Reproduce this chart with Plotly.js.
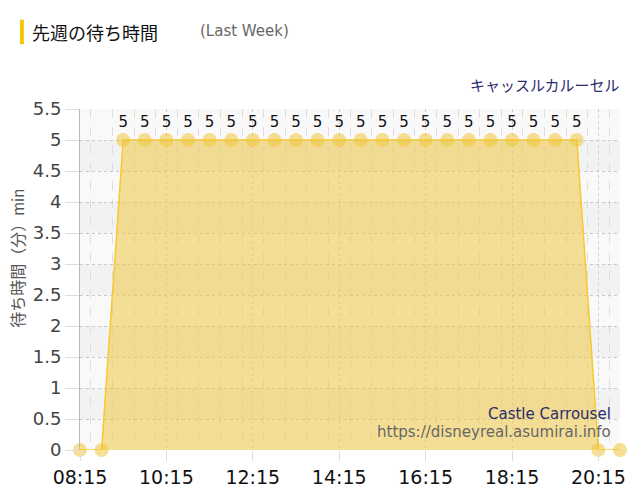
<!DOCTYPE html>
<html>
<head>
<meta charset="utf-8">
<script src="https://cdn.plot.ly/plotly-3.0.1.min.js"></script>
<style>
  html, body { margin: 0; padding: 0; background: #fff; }
  #graph { width: 640px; height: 500px; }
</style>
</head>
<body>
<div id="graph"></div>
<script>
var times = [
    '08:15', '08:45', '09:15', '09:45', '10:15', '10:45', '11:15', '11:45',
    '12:15', '12:45', '13:15', '13:45', '14:15', '14:45', '15:15', '15:45',
    '16:15', '16:45', '17:15', '17:45', '18:15', '18:45', '19:15', '19:45',
    '20:15', '20:45'
];
var waits = [
    0, 0, 5, 5, 5, 5, 5, 5,
    5, 5, 5, 5, 5, 5, 5, 5,
    5, 5, 5, 5, 5, 5, 5, 5,
    0, 0
];
var yTicks = [0, 0.5, 1, 1.5, 2, 2.5, 3, 3.5, 4, 4.5, 5, 5.5];

var day = '2024-01-01 ';
var xValues = times.map(function (t) { return day + t; });
var labels = waits.map(function (v) { return v > 0 ? String(v) : ''; });

var jp = '"Noto Sans CJK JP", "DejaVu Sans", sans-serif';

var waitPlot = {
    x: xValues,
    y: waits,
    text: labels,
    type: 'scatter',
    mode: 'lines+markers+text',
    fill: 'tozeroy',
    fillcolor: 'rgba(240, 200, 70, 0.55)',
    line: { color: '#f5c930', width: 1.5 },
    marker: { size: 14, color: 'rgba(240, 198, 60, 0.55)' },
    textposition: 'top center',
    textfont: { family: 'DejaVu Sans', size: 15, color: '#111' },
    cliponaxis: false,
    hoverinfo: 'skip',
    showlegend: false
};

// alternating background bands, one per y step
var bands = [];
for (var i = 0; i < yTicks.length - 1; i++) {
    bands.push({
        type: 'rect', xref: 'paper', yref: 'y', layer: 'below',
        x0: 0, x1: 1, y0: yTicks[i], y1: yTicks[i + 1],
        fillcolor: i % 2 === 0 ? '#f9f9f9' : '#f2f2f2',
        line: { width: 0 }
    });
}
// yellow mark in front of the heading
bands.push({
    type: 'rect', xref: 'paper', yref: 'paper', layer: 'above',
    x0: -0.111, x1: -0.104, y0: 1.19, y1: 1.262,
    fillcolor: '#f5c400', line: { width: 0 }
});

var layout = {
    width: 640,
    height: 500,
    margin: { l: 80, r: 20, t: 109, b: 50 },
    paper_bgcolor: '#ffffff',
    plot_bgcolor: 'rgba(0,0,0,0)',
    font: { family: jp, color: '#444' },
    xaxis: {
        type: 'date',
        range: [xValues[0], xValues[xValues.length - 1]],
        tick0: xValues[0],
        dtick: 2 * 3600 * 1000,
        tickformat: '%H:%M',
        tickfont: { family: 'DejaVu Sans', size: 19, color: '#111' },
        ticks: 'outside',
        ticklen: 10,
        tickcolor: '#ddd',
        showgrid: true,
        gridcolor: '#d0d0d0',
        griddash: 'dot',
        gridwidth: 1,
        minor: {
            dtick: 30 * 60 * 1000,
            showgrid: true,
            gridcolor: '#dedede',
            griddash: 'dash',
            ticks: ''
        },
        zeroline: false,
        showline: false,
        fixedrange: true
    },
    yaxis: {
        range: [0, 5.5],
        tickvals: yTicks,
        ticktext: yTicks.map(String),
        tickfont: { family: 'DejaVu Sans', size: 18, color: '#444' },
        ticks: 'outside',
        ticklen: 14,
        tickcolor: '#ddd',
        showgrid: true,
        gridcolor: '#c8c8c8',
        griddash: 'dot',
        zeroline: false,
        showline: true,
        linecolor: '#bbb',
        linewidth: 1,
        fixedrange: true
    },
    shapes: bands,
    annotations: [
        {
            xref: 'paper', yref: 'paper', x: -0.117, y: 0.563,
            xanchor: 'center', yanchor: 'middle', showarrow: false,
            textangle: -90,
            text: '待ち時間（分）<span style="font-size:15px">min</span>',
            font: { family: jp, size: 16, color: '#555' }
        },
        {
            xref: 'paper', yref: 'paper', x: -0.093, y: 1.226,
            xanchor: 'left', yanchor: 'middle', showarrow: false,
            text: '先週の待ち時間',
            font: { family: jp, size: 18, color: '#111' }
        },
        {
            xref: 'paper', yref: 'paper', x: 0.218, y: 1.229,
            xanchor: 'left', yanchor: 'middle', showarrow: false,
            text: '(Last Week)',
            font: { family: 'DejaVu Sans', size: 15, color: '#666' }
        },
        {
            xref: 'paper', yref: 'paper', x: 1.004, y: 1.072,
            xanchor: 'right', yanchor: 'middle', showarrow: false,
            text: 'キャッスルカルーセル',
            font: { family: jp, size: 15, color: '#2c2c6c' }
        },
        {
            xref: 'paper', yref: 'paper', x: 0.987, y: 0.106,
            xanchor: 'right', yanchor: 'middle', showarrow: false,
            text: 'Castle Carrousel',
            font: { family: 'DejaVu Sans', size: 15, color: '#2c2c6c' }
        },
        {
            xref: 'paper', yref: 'paper', x: 0.987, y: 0.053,
            xanchor: 'right', yanchor: 'middle', showarrow: false,
            text: 'https://disneyreal.asumirai.info',
            font: { family: 'DejaVu Sans', size: 15, color: '#666' }
        }
    ]
};

var config = { staticPlot: true, responsive: false };
Plotly.newPlot('graph', [waitPlot], layout, config);
</script>
</body>
</html>
